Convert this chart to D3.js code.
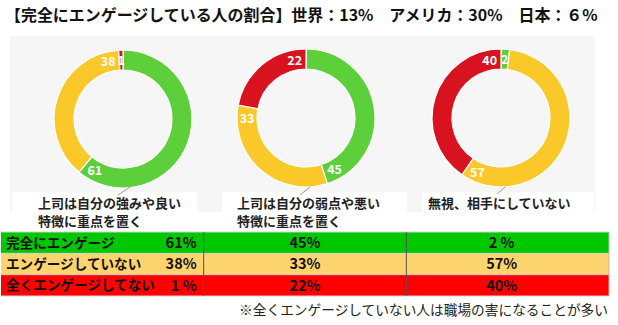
<!DOCTYPE html>
<html>
<head>
<meta charset="utf-8">
<script src="https://cdn.jsdelivr.net/npm/d3@7"></script>
<style>
  html, body { margin: 0; padding: 0; background: #fff; }
  svg { display: block; }
  text { font-family: "Noto Sans CJK JP", "Noto Sans", sans-serif; }
</style>
</head>
<body>
<svg id="chart" width="618" height="325"></svg>
<script>
// Engagement breakdown for three management styles
const levels = ["完全にエンゲージ", "エンゲージしていない", "全くエンゲージしてない"];
const styles = [
  ["上司は自分の強みや良い", "特徴に重点を置く"],
  ["上司は自分の弱点や悪い", "特徴に重点を置く"],
  ["無視、相手にしていない"]
];
const engaged    = [61, 45, 2];
const notEngaged = [38, 33, 57];
const disengaged = [1, 22, 40];

const titleText = "【完全にエンゲージしている人の割合】世界：13%　アメリカ：30%　日本：６%";
const noteText = "※全くエンゲージしていない人は職場の害になることが多い";

const ringColors = ["#5dcf3b", "#fbc82a", "#d8131f"];
const tableColors = ["#00c800", "#fdd46e", "#ff0000"];

const svg = d3.select("#chart");

// title, shrunk to fit its line
const title = svg.append("text")
  .attr("x", 5).attr("y", 21)
  .attr("font-size", 17).attr("font-weight", 700)
  .attr("fill", "#111")
  .text(titleText);
const tw = title.node().getComputedTextLength();
title.attr("font-size", 17 * 593 / tw);

// light backdrop behind the rings
svg.append("rect").attr("x", 10).attr("y", 36).attr("width", 585).attr("height", 176)
  .attr("fill", "#f6f6f6");

const centers = [[123, 119], [306, 118], [501, 118]];
const rOuter = 69, rInner = 49;

const pie = d3.pie().sort(null).value(d => d);
const arc = d3.arc().innerRadius(rInner).outerRadius(rOuter);

const labelBoxes = [[12, 192, 185, 38], [222, 192, 185, 38], [422, 192, 172, 22]];
const leaders = [[[130, 187], [118, 195]], [[310, 187], [300, 195]], [[505, 187], [497, 194]]];
const labelX = [38, 237, 428];

styles.forEach((lines, i) => {
  const b = labelBoxes[i];
  svg.append("rect").attr("x", b[0]).attr("y", b[1]).attr("width", b[2]).attr("height", b[3]).attr("fill", "#fff");
});

styles.forEach((lines, i) => {
  const vals = [engaged[i], notEngaged[i], disengaged[i]];
  const g = svg.append("g").attr("transform", `translate(${centers[i][0]},${centers[i][1]})`);
  const arcs = pie(vals);
  g.selectAll("path").data(arcs).join("path")
    .attr("d", arc)
    .attr("fill", (d, j) => ringColors[j])
    .attr("stroke", "#fff").attr("stroke-width", 1.2);
  // value labels sit near the closing edge of each slice
  const rMid = (rInner + rOuter) / 2;
  g.selectAll("text").data(arcs).join("text")
    .attr("transform", d => {
      const off = Math.min(11 * Math.PI / 180, (d.endAngle - d.startAngle) / 2);
      const a = d.endAngle - off;
      return `translate(${Math.sin(a) * rMid},${-Math.cos(a) * rMid})`;
    })
    .attr("text-anchor", "middle").attr("dy", "0.36em")
    .attr("font-family", "'Roboto Condensed', 'Liberation Sans Narrow', Roboto, sans-serif")
    .attr("font-size", 12.5).attr("font-weight", 700).attr("fill", "#fff")
    .text(d => d.data);

  svg.append("line")
    .attr("x1", leaders[i][0][0]).attr("y1", leaders[i][0][1])
    .attr("x2", leaders[i][1][0]).attr("y2", leaders[i][1][1])
    .attr("stroke", "#999").attr("stroke-width", 1);
  lines.forEach((t, k) => {
    svg.append("text").attr("x", labelX[i]).attr("y", 207.5 + k * 18.6)
      .attr("font-size", 13).attr("font-weight", 700).attr("fill", "#222")
      .text(t);
  });
});

// summary table
const x = d3.scaleBand().domain(d3.range(styles.length)).range([1, 609]);
const y = d3.scaleBand().domain(d3.range(levels.length)).range([232, 296]);
const series = [engaged, notEngaged, disengaged];
const fmt = v => v < 10 ? `${v} %` : `${v}%`;

const table = svg.append("g");
levels.forEach((lv, r) => {
  table.append("rect").attr("x", x.range()[0]).attr("y", y(r))
    .attr("width", x.range()[1] - x.range()[0]).attr("height", y.bandwidth())
    .attr("fill", tableColors[r]);
});
levels.forEach((lv, r) => {
  table.append("line").attr("x1", x.range()[0]).attr("x2", x.range()[1])
    .attr("y1", y(r)).attr("y2", y(r)).attr("stroke", "#d0d0d0").attr("stroke-width", 1);
});
table.append("line").attr("x1", x.range()[0]).attr("x2", x.range()[1])
  .attr("y1", 296).attr("y2", 296).attr("stroke", "#d0d0d0");
d3.range(1, styles.length).forEach(c => {
  table.append("line").attr("x1", x(c)).attr("x2", x(c)).attr("y1", 232).attr("y2", 296)
    .attr("stroke", "#555").attr("stroke-width", 1);
});
table.append("line").attr("x1", 609).attr("x2", 609).attr("y1", 232).attr("y2", 296).attr("stroke", "#bbb");

levels.forEach((lv, r) => {
  const cy = y(r) + y.bandwidth() / 2;
  table.append("text").attr("x", 6).attr("y", cy).attr("dy", "0.36em")
    .attr("font-size", 13.6).attr("font-weight", 700).attr("fill", "#111").text(lv);
  styles.forEach((s, c) => {
    const t = table.append("text").attr("y", cy).attr("dy", "0.36em")
      .attr("font-size", 14.5).attr("font-weight", 700).attr("fill", "#111")
      .attr("font-family", "'Open Sans', 'Noto Sans', sans-serif")
      .text(fmt(series[r][c]));
    if (c === 0) t.attr("x", x(0) + x.bandwidth() - 7).attr("text-anchor", "end");
    else t.attr("x", x(c) + x.bandwidth() / 2 - (c === 2 ? 6 : 0)).attr("text-anchor", "middle");
  });
});

svg.append("text").attr("x", 608).attr("y", 315).attr("text-anchor", "end")
  .attr("font-size", 13.7).attr("fill", "#222").text(noteText);
</script>
</body>
</html>
